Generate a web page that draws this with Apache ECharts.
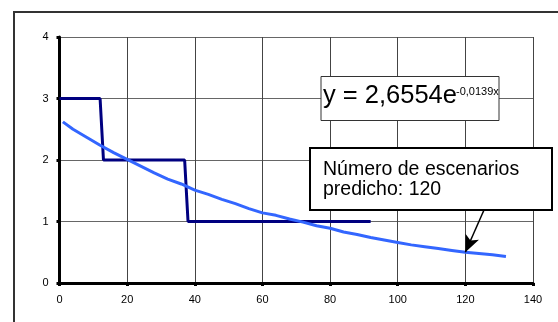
<!DOCTYPE html>
<html>
<head>
<meta charset="utf-8">
<script src="https://cdn.jsdelivr.net/npm/echarts@6/dist/echarts.min.js"></script>
<style>
html, body { margin: 0; padding: 0; background: #fff; }
#chart { width: 558px; height: 322px; }
</style>
</head>
<body>
<div id="chart"></div>
<script>
// observed scenario counts (step line)
var stepX = [0, 12, 13, 37, 38, 92];
var stepY = [3, 3, 2, 2, 1, 1];
// fitted trend line
var fitX = [1, 4, 8, 12, 16, 20, 24, 28, 32, 36, 40, 44, 48, 52, 56, 60, 64, 68, 72, 76, 80, 84, 88, 92, 96, 100, 104, 108, 112, 116, 120, 124, 128, 132];
var fitY = [2.62, 2.50, 2.37, 2.24, 2.12, 2.01, 1.90, 1.79, 1.69, 1.61, 1.51, 1.44, 1.36, 1.29, 1.21, 1.14, 1.10, 1.04, 0.99, 0.93, 0.89, 0.83, 0.79, 0.74, 0.70, 0.66, 0.62, 0.59, 0.56, 0.53, 0.50, 0.48, 0.46, 0.43];
var xTicks = [0, 20, 40, 60, 80, 100, 120, 140];
var yTicks = [0, 1, 2, 3, 4];

function pairs(xs, ys) {
    var out = [];
    for (var i = 0; i < xs.length; i++) out.push([xs[i], ys[i]]);
    return out;
}

var chart = echarts.init(document.getElementById('chart'));
chart.setOption({
    animation: false,
    grid: { left: 59.5, right: 25, top: 37, bottom: 39 },
    xAxis: {
        type: 'value', min: xTicks[0], max: xTicks[xTicks.length - 1], interval: 20,
        axisLine: { lineStyle: { color: '#000', width: 3 } },
        axisTick: { show: true, length: 3, lineStyle: { color: '#000', width: 3 } },
        axisLabel: { color: '#000', fontFamily: 'Liberation Sans', fontSize: 11, margin: 11 },
        splitLine: { show: true, lineStyle: { color: '#444', width: 1 } }
    },
    yAxis: {
        type: 'value', min: yTicks[0], max: yTicks[yTicks.length - 1], interval: 1,
        axisLine: { show: true, lineStyle: { color: '#000', width: 3 } },
        axisTick: { show: true, length: 3, lineStyle: { color: '#000', width: 3 } },
        axisLabel: { color: '#000', fontFamily: 'Liberation Sans', fontSize: 11, margin: 11 },
        splitLine: { show: true, lineStyle: { color: '#666', width: 1 } }
    },
    series: [
        {
            type: 'line', data: pairs(stepX, stepY), showSymbol: false,
            lineStyle: { color: '#000080', width: 3 }, z: 3
        },
        {
            type: 'line', data: pairs(fitX, fitY), showSymbol: false,
            lineStyle: { color: '#3366ff', width: 3 }, z: 4,
            markLine: {
                silent: true, symbol: ['none', 'arrow'], symbolSize: [11, 17],
                label: { show: false },
                lineStyle: { color: '#000', width: 1.5, type: 'solid' },
                data: [[{ x: 484, y: 210 }, { coord: [120, 0.5] }]]
            }
        }
    ],
    graphic: [
        { type: 'rect', shape: { x: 14, y: 12, width: 600, height: 400 },
          style: { fill: 'none', stroke: '#333', lineWidth: 2 }, z: 0 },
        { type: 'rect', shape: { x: 321, y: 76.5, width: 178, height: 44 },
          style: { fill: '#fff', stroke: '#333', lineWidth: 1 }, z: 10 },
        { type: 'text', x: 323, y: 109, z: 11,
          style: { text: 'y = 2,6554e', font: '25.5px "Liberation Sans"', fill: '#000', textVerticalAlign: 'bottom' } },
        { type: 'text', x: 456, y: 97, z: 11,
          style: { text: '-0,0139x', font: '11px "Liberation Sans"', fill: '#000', textVerticalAlign: 'bottom' } },
        { type: 'rect', shape: { x: 310, y: 148, width: 242, height: 62 },
          style: { fill: '#fff', stroke: '#000', lineWidth: 2 }, z: 10 },
        { type: 'text', x: 323, y: 160, z: 11,
          style: { text: 'Número de escenarios\npredicho: 120', font: '19.5px "Liberation Sans"', lineHeight: 19.5, fill: '#000', textVerticalAlign: 'top' } }
    ]
});
</script>
</body>
</html>
